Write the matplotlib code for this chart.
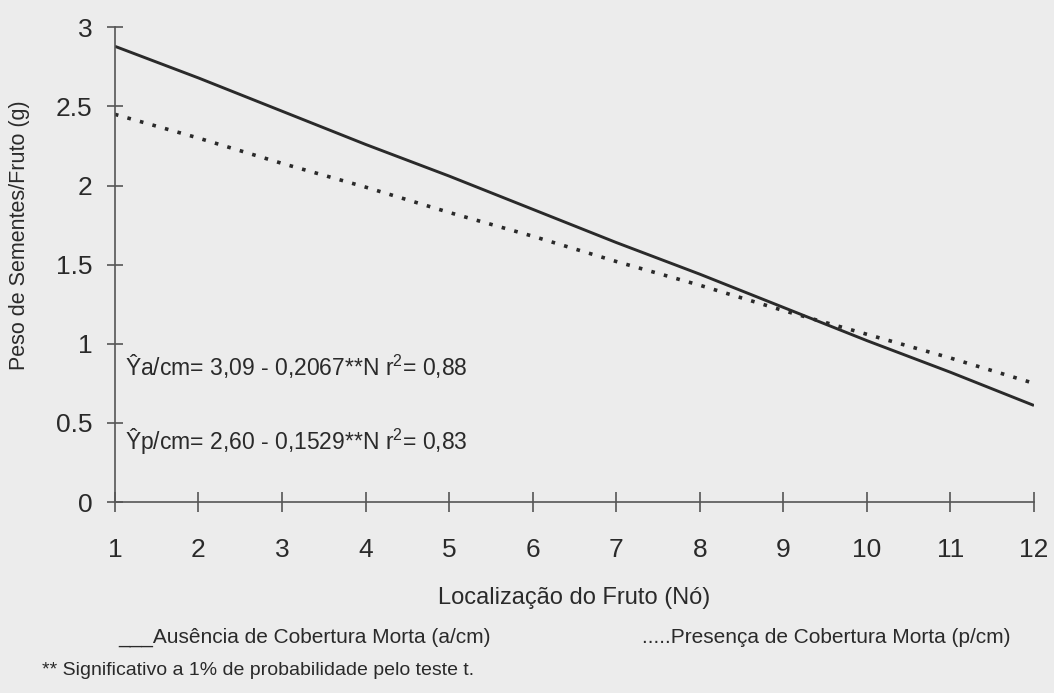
import matplotlib.pyplot as plt

# Node position of the fruit
nodes = [1, 2, 3, 4, 5, 6, 7, 8, 9, 10, 11, 12]
# Seed weight per fruit (g)
peso_sem_cobertura = [2.88, 2.68, 2.47, 2.26, 2.06, 1.85, 1.64, 1.44, 1.23, 1.02, 0.82, 0.61]
peso_com_cobertura = [2.45, 2.30, 2.14, 1.99, 1.83, 1.68, 1.52, 1.37, 1.21, 1.06, 0.91, 0.75]

xticks = [1, 2, 3, 4, 5, 6, 7, 8, 9, 10, 11, 12]
yticks = [0, 0.5, 1, 1.5, 2, 2.5, 3]
ytick_labels = ['0', '0.5', '1', '1.5', '2', '2.5', '3']

eq_a = 'Ŷa/cm= 3,09 - 0,2067**N r$^2$= 0,88'
eq_p = 'Ŷp/cm= 2,60 - 0,1529**N r$^2$= 0,83'

bg = '#ececec'
ink = '#2a2a2a'
plt.rcParams['font.family'] = ['Liberation Sans', 'DejaVu Sans']
plt.rcParams['mathtext.fontset'] = 'custom'
plt.rcParams['mathtext.rm'] = 'Liberation Sans'

fig = plt.figure(figsize=(10.54, 6.93), dpi=100, facecolor=bg)
ax = fig.add_axes([0.109, 0.2756, 0.872, 0.685], facecolor=bg)

ax.plot(nodes, peso_sem_cobertura, color=ink, lw=2.1, solid_capstyle='butt')
ax.plot(nodes, peso_com_cobertura, color=ink, lw=2.6, linestyle=(0, (1, 2.6)))

ax.set_xlim(1, 12)
ax.set_ylim(0, 3)
ax.set_xticks(xticks)
ax.set_xticklabels([str(v) for v in xticks])
ax.set_yticks(yticks)
ax.set_yticklabels(ytick_labels)
for s in ['top', 'right']:
    ax.spines[s].set_visible(False)
for s in ['left', 'bottom']:
    ax.spines[s].set_color('#555555')
    ax.spines[s].set_linewidth(1.2)
ax.tick_params(axis='x', direction='inout', length=14, width=1.2, color='#555555',
               labelsize=19, pad=19, labelcolor=ink)
ax.tick_params(axis='y', direction='inout', length=12, width=1.2, color='#555555',
               labelsize=19, pad=10, labelcolor=ink)

ax.set_ylabel('Peso de Sementes/Fruto (g)', fontsize=15.5, color=ink)
ax.yaxis.set_label_coords(-0.092, 0.562)
ax.set_xlabel('Localização do Fruto (Nó)', fontsize=17, color=ink, labelpad=18)

# regression equations
ax.text(1.12, 0.80, eq_a, fontsize=16.5, color=ink, va='baseline')
ax.text(1.12, 0.33, eq_p, fontsize=16.5, color=ink, va='baseline')

fig.text(0.112, 0.072, '___Ausência de Cobertura Morta (a/cm)', fontsize=15,
         color=ink, va='baseline')
fig.text(0.609, 0.072, '.....Presença de Cobertura Morta (p/cm)', fontsize=15,
         color=ink, va='baseline')
fig.text(0.04, 0.026, '** Significativo a 1% de probabilidade pelo teste t.', fontsize=14,
         color=ink, va='baseline')

fig.savefig('out.png', dpi=100, facecolor=bg)
